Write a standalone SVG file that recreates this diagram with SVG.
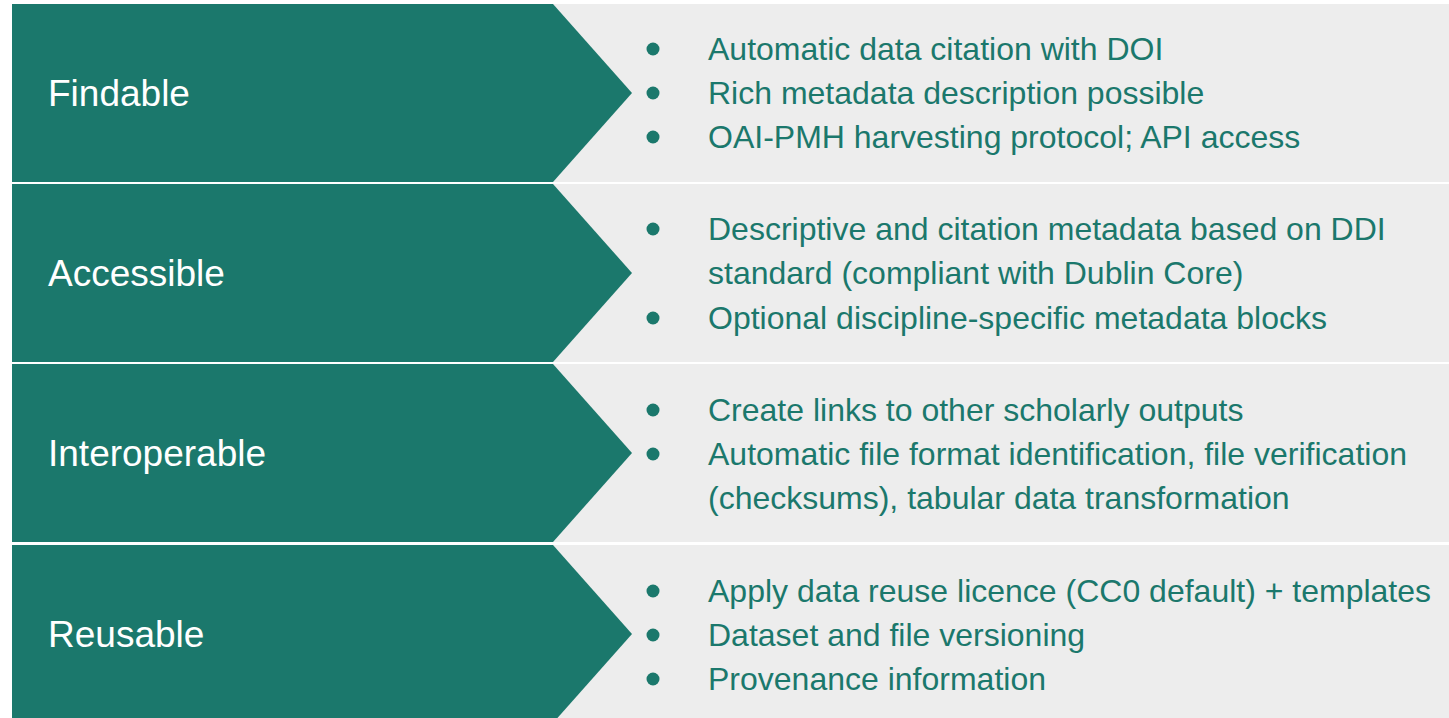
<svg xmlns="http://www.w3.org/2000/svg" width="1449" height="718" viewBox="0 0 1449 718">
<style>
.bg{fill:#ededed}
.chev{fill:#1b786c}
.lbl{font-family:"Liberation Sans",Arial,sans-serif;font-size:37px;fill:#ffffff}
.txt{font-family:"Liberation Sans",Arial,sans-serif;font-size:32px;fill:#1b786c}
.dot{fill:#1b786c}
</style>
<rect width="1449" height="718" fill="#ffffff"/>
<g id="findable">
<rect class="bg" x="540" y="4" width="909" height="178"/>
<polygon class="chev" points="12,4 553,4 632,93 553,182 12,182"/>
<text class="lbl" x="48" y="106">Findable</text>
<circle class="dot" cx="653" cy="49" r="6.5"/>
<circle class="dot" cx="653" cy="93" r="6.5"/>
<circle class="dot" cx="653" cy="137" r="6.5"/>
<text class="txt" x="708" y="60">Automatic data citation with DOI</text>
<text class="txt" x="708" y="104">Rich metadata description possible</text>
<text class="txt" x="708" y="148">OAI-PMH harvesting protocol; API access</text>
</g>
<g id="accessible">
<rect class="bg" x="540" y="184" width="909" height="178"/>
<polygon class="chev" points="12,184 553,184 632,273 553,362 12,362"/>
<text class="lbl" x="48" y="286">Accessible</text>
<circle class="dot" cx="653" cy="229" r="6.5"/>
<circle class="dot" cx="653" cy="318" r="6.5"/>
<text class="txt" x="708" y="240">Descriptive and citation metadata based on DDI</text>
<text class="txt" x="708" y="284">standard (compliant with Dublin Core)</text>
<text class="txt" x="708" y="329">Optional discipline-specific metadata blocks</text>
</g>
<g id="interoperable">
<rect class="bg" x="540" y="364" width="909" height="178"/>
<polygon class="chev" points="12,364 553,364 632,453 553,542 12,542"/>
<text class="lbl" x="48" y="466">Interoperable</text>
<circle class="dot" cx="653" cy="410" r="6.5"/>
<circle class="dot" cx="653" cy="454" r="6.5"/>
<text class="txt" x="708" y="421">Create links to other scholarly outputs</text>
<text class="txt" x="708" y="465">Automatic file format identification, file verification</text>
<text class="txt" x="708" y="509">(checksums), tabular data transformation</text>
</g>
<g id="reusable">
<rect class="bg" x="540" y="545" width="909" height="178"/>
<polygon class="chev" points="12,545 553,545 632,634 553,723 12,723"/>
<text class="lbl" x="48" y="647">Reusable</text>
<circle class="dot" cx="653" cy="591" r="6.5"/>
<circle class="dot" cx="653" cy="635" r="6.5"/>
<circle class="dot" cx="653" cy="679" r="6.5"/>
<text class="txt" x="708" y="602">Apply data reuse licence (CC0 default) + templates</text>
<text class="txt" x="708" y="646">Dataset and file versioning</text>
<text class="txt" x="708" y="690">Provenance information</text>
</g>
<g id="connectors"></g>
</svg>
